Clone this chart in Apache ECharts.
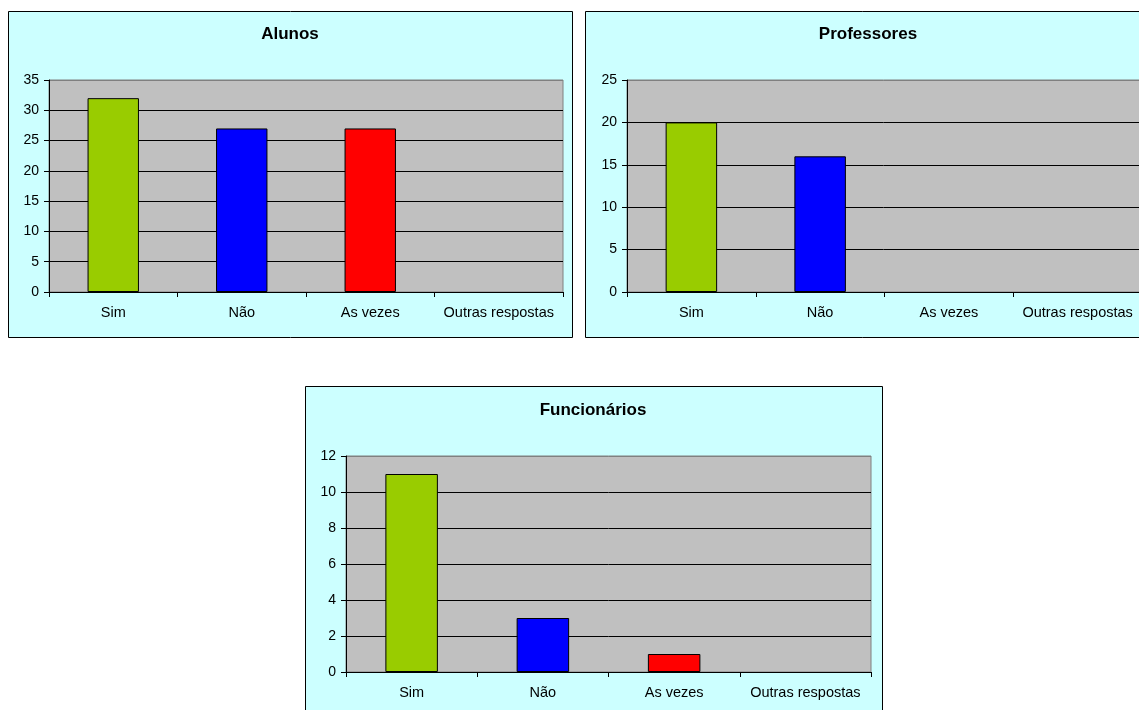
<!DOCTYPE html>
<html>
<head>
<meta charset="utf-8">
<script src="https://cdn.jsdelivr.net/npm/echarts@6/dist/echarts.min.js"></script>
<style>
html,body{margin:0;padding:0;background:#fff;}
#c{width:1139px;height:710px;}
</style>
</head>
<body>
<div id="c"></div>
<script>
const categories = ['Sim', 'Não', 'As vezes', 'Outras respostas'];
const alunos = [32, 27, 27, 0];
const professores = [20, 16, 0, 0];
const funcionarios = [11, 3, 1, 0];
const titles = ['Alunos', 'Professores', 'Funcionários'];
const barColors = ['#99CC00', '#0000FF', '#FF0000', '#808080'];
const yMax = [35, 25, 12];
const yStep = [5, 5, 2];

const FONT = '"Liberation Sans", Arial, sans-serif';
const series = [alunos, professores, funcionarios];

const grids = [
  {left: 49, top: 80, width: 514, height: 212},
  {left: 627, top: 80, width: 515, height: 212},
  {left: 346, top: 456, width: 525, height: 216}
];
const boxes = [
  {x: 8.5, y: 11.5, w: 564, h: 326},
  {x: 585.5, y: 11.5, w: 566, h: 326},
  {x: 305.5, y: 386.5, w: 577, h: 340}
];
const titlePos = [[290, 34], [868, 34], [593, 410]];

function splitColors(i) {
  const n = yMax[i] / yStep[i] + 1;
  const arr = [];
  for (let k = 0; k < n; k++) arr.push(k === n - 1 ? '#808080' : '#000000');
  return arr;
}

const option = {
  animation: false,
  backgroundColor: '#ffffff',
  textStyle: {fontFamily: FONT},
  graphic: [].concat(
    boxes.map(b => ({
      type: 'rect', z: -100, silent: true,
      shape: {x: b.x, y: b.y, width: b.w, height: b.h},
      style: {fill: '#CCFFFF', stroke: '#000000', lineWidth: 1}
    })),
    titles.map((t, i) => ({
      type: 'text', z: 10, silent: true,
      style: {
        text: t, x: titlePos[i][0], y: titlePos[i][1],
        textAlign: 'center', textVerticalAlign: 'middle',
        font: 'bold 17px ' + FONT, fill: '#000000'
      }
    }))
  ),
  grid: grids.map(g => Object.assign({
    show: true,
    backgroundColor: '#C0C0C0',
    borderColor: '#808080',
    borderWidth: 1,
    outerBoundsMode: 'none',
    containLabel: false
  }, g)),
  xAxis: grids.map((g, i) => ({
    type: 'category',
    gridIndex: i,
    data: categories,
    boundaryGap: true,
    axisLine: {show: true, lineStyle: {color: '#000000', width: 1}},
    axisTick: {show: true, length: 5, inside: false, alignWithLabel: false, lineStyle: {color: '#000000'}},
    axisLabel: {color: '#000000', fontSize: 14.5, fontFamily: FONT, margin: 13, interval: 0},
    splitLine: {show: false}
  })),
  yAxis: grids.map((g, i) => ({
    type: 'value',
    gridIndex: i,
    min: 0,
    max: yMax[i],
    interval: yStep[i],
    axisLine: {show: true, lineStyle: {color: '#000000', width: 1}},
    axisTick: {show: true, length: 5, inside: false, lineStyle: {color: '#000000'}},
    axisLabel: {color: '#000000', fontSize: 14, fontFamily: FONT, margin: 10},
    splitLine: {show: true, lineStyle: {color: splitColors(i), width: 1}}
  })),
  series: series.map((vals, i) => ({
    type: 'bar',
    xAxisIndex: i,
    yAxisIndex: i,
    barWidth: '40%',
    z: 1,
    data: vals.map((v, k) => ({
      value: v,
      itemStyle: {color: barColors[k], borderColor: '#000000', borderWidth: v > 0 ? 1 : 0}
    }))
  }))
};

const chart = echarts.init(document.getElementById('c'), null, {renderer: 'canvas'});
chart.setOption(option);
</script>
</body>
</html>
